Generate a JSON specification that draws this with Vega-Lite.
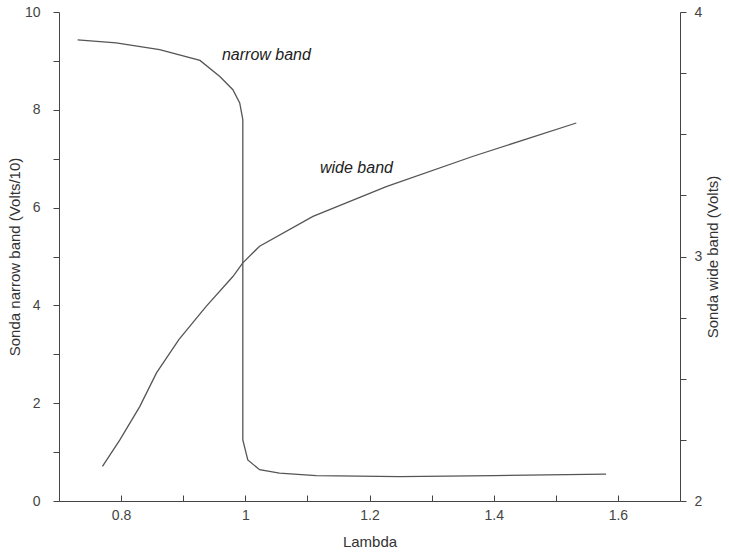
{
  "$schema": "https://vega.github.io/schema/vega-lite/v6.json",
  "width": 621,
  "height": 489,
  "autosize": {"type": "none"},
  "padding": {"left": 59, "top": 12, "right": 48, "bottom": 52},
  "background": "white",
  "config": {
    "view": {"stroke": null},
    "font": "Liberation Sans",
    "axis": {
      "grid": false,
      "domainColor": "#444",
      "tickColor": "#444",
      "labelColor": "#444",
      "titleColor": "#333",
      "labelFont": "Liberation Sans",
      "titleFont": "Liberation Sans",
      "labelFontSize": 14,
      "titleFontSize": 15,
      "titleFontWeight": "normal",
      "tickSize": 6
    }
  },
  "datasets": {
    "narrow": [
      {"i": 1, "lambda": 0.73, "volts": 9.43},
      {"i": 2, "lambda": 0.792, "volts": 9.37},
      {"i": 3, "lambda": 0.862, "volts": 9.23},
      {"i": 4, "lambda": 0.927, "volts": 9.01},
      {"i": 5, "lambda": 0.959, "volts": 8.68},
      {"i": 6, "lambda": 0.98, "volts": 8.41},
      {"i": 7, "lambda": 0.991, "volts": 8.14},
      {"i": 8, "lambda": 0.995, "volts": 7.87},
      {"i": 9, "lambda": 0.996, "volts": 7.8},
      {"i": 10, "lambda": 0.996, "volts": 1.25},
      {"i": 11, "lambda": 1.004, "volts": 0.84},
      {"i": 12, "lambda": 1.023, "volts": 0.64},
      {"i": 13, "lambda": 1.055, "volts": 0.57},
      {"i": 14, "lambda": 1.114, "volts": 0.52},
      {"i": 15, "lambda": 1.249, "volts": 0.5},
      {"i": 16, "lambda": 1.4, "volts": 0.52},
      {"i": 17, "lambda": 1.581, "volts": 0.55}
    ],
    "wide": [
      {"i": 1, "lambda": 0.77, "volts": 2.142},
      {"i": 2, "lambda": 0.798, "volts": 2.25},
      {"i": 3, "lambda": 0.83, "volts": 2.386},
      {"i": 4, "lambda": 0.857, "volts": 2.524},
      {"i": 5, "lambda": 0.893, "volts": 2.66},
      {"i": 6, "lambda": 0.937, "volts": 2.796},
      {"i": 7, "lambda": 0.98, "volts": 2.918},
      {"i": 8, "lambda": 0.996, "volts": 2.974},
      {"i": 9, "lambda": 1.023, "volts": 3.042},
      {"i": 10, "lambda": 1.109, "volts": 3.164},
      {"i": 11, "lambda": 1.227, "volts": 3.286},
      {"i": 12, "lambda": 1.367, "volts": 3.41},
      {"i": 13, "lambda": 1.533, "volts": 3.546}
    ],
    "labels": [
      {"label": "narrow band", "lambda": 1.034, "volts": 9.13},
      {"label": "wide band", "lambda": 1.179, "volts": 6.81}
    ]
  },
  "encoding": {
    "x": {
      "field": "lambda",
      "type": "quantitative",
      "scale": {"domain": [0.7, 1.7], "nice": false, "zero": false},
      "axis": {
        "title": "Lambda",
        "values": [0.8, 0.9, 1.0, 1.1, 1.2, 1.3, 1.4, 1.5, 1.6],
        "labelExpr": "round(datum.value*10)%2==0 ? format(datum.value, '~g') : ''",
        "tickSize": -6,
        "labelPadding": 13,
        "titlePadding": 12
      }
    }
  },
  "layer": [
    {
      "layer": [
        {
          "data": {"name": "narrow"},
          "mark": {"type": "line", "color": "#555", "strokeWidth": 1.3},
          "encoding": {
            "y": {
              "field": "volts",
              "type": "quantitative",
              "scale": {"domain": [0, 10], "nice": false},
              "axis": {
                "title": "Sonda narrow band (Volts/10)",
                "values": [0, 1, 2, 3, 4, 5, 6, 7, 8, 9, 10],
                "labelExpr": "datum.value%2==0 ? datum.label : ''",
                "labelPadding": 13,
                "titlePadding": 2
              }
            },
            "order": {"field": "i", "type": "quantitative"}
          }
        },
        {
          "data": {"name": "labels"},
          "mark": {"type": "text", "fontStyle": "italic", "fontSize": 16, "color": "#222", "align": "center", "baseline": "middle"},
          "encoding": {
            "y": {
              "field": "volts",
              "type": "quantitative",
              "scale": {"domain": [0, 10], "nice": false},
              "axis": {
                "title": "Sonda narrow band (Volts/10)",
                "values": [0, 1, 2, 3, 4, 5, 6, 7, 8, 9, 10],
                "labelExpr": "datum.value%2==0 ? datum.label : ''",
                "labelPadding": 13,
                "titlePadding": 2
              }
            },
            "text": {"field": "label", "type": "nominal"}
          }
        }
      ]
    },
    {
      "data": {"name": "wide"},
      "mark": {"type": "line", "color": "#555", "strokeWidth": 1.3},
      "encoding": {
        "y": {
          "field": "volts",
          "type": "quantitative",
          "scale": {"domain": [2, 4], "nice": false, "zero": false},
          "axis": {
            "orient": "right",
            "title": "Sonda wide band (Volts)",
            "titleAngle": 270,
            "titleBaseline": "top",
            "values": [2, 2.25, 2.5, 2.75, 3, 3.25, 3.5, 3.75, 4],
            "labelExpr": "datum.value%1==0 ? format(datum.value, 'd') : ''",
            "labelPadding": 8,
            "titlePadding": 4
          }
        },
        "order": {"field": "i", "type": "quantitative"}
      }
    }
  ],
  "resolve": {"scale": {"y": "independent"}}
}
